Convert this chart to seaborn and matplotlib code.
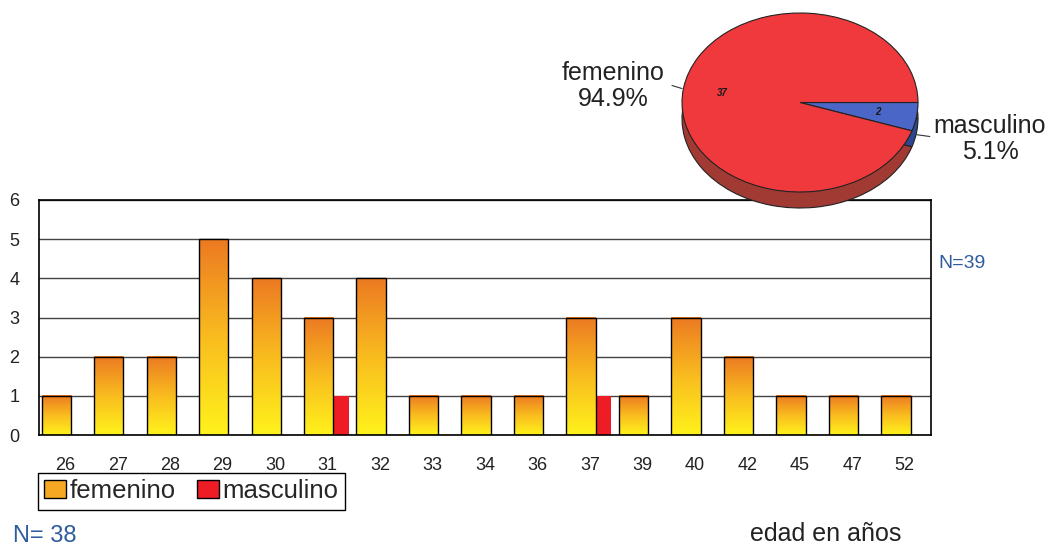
import numpy as np
import pandas as pd
import matplotlib
matplotlib.use('Agg')
import matplotlib.pyplot as plt
import seaborn as sns
from matplotlib.colors import LinearSegmentedColormap
from matplotlib.patches import Patch

sns.set_style("white")
plt.rcParams['font.family'] = ['Liberation Sans', 'DejaVu Sans']

# datos
edades = ['26', '27', '28', '29', '30', '31', '32', '33', '34', '36', '37', '39', '40', '42', '45', '47', '52']
femenino = [1, 2, 2, 5, 4, 3, 4, 1, 1, 1, 3, 1, 3, 2, 1, 1, 1]
masculino = [0, 0, 0, 0, 0, 1, 0, 0, 0, 0, 1, 0, 0, 0, 0, 0, 0]
pie_labels = ['masculino', 'femenino']
pie_counts = [2, 37]

df = pd.DataFrame({'edad': edades, 'femenino': femenino, 'masculino': masculino})

W, H = 1062, 549
fig = plt.figure(figsize=(W / 100, H / 100), dpi=100)

# ---- barras por edad ----
ax = fig.add_axes([39 / W, 114 / H, 892 / W, 235 / H])
sns.barplot(data=df, x='edad', y='femenino', order=edades, width=0.56, color='orange',
            saturation=1, errorbar=None, ax=ax, zorder=3)
fem_bars = list(ax.patches)
sns.barplot(data=df, x='edad', y='masculino', order=edades, width=0.3, color='#EE1C25',
            saturation=1, errorbar=None, ax=ax, zorder=2)
masc_bars = ax.patches[len(fem_bars):]

# degradado amarillo -> naranja en cada barra femenina
cmap = LinearSegmentedColormap.from_list('fem', ['#FFF21C', '#F9BC1F', '#EC7A22'])
grad = np.linspace(0, 1, 100).reshape(-1, 1)
for p in fem_bars:
    p.set_x(p.get_x() - 0.17)
    p.set_facecolor('none')
    p.set_edgecolor('black')
    p.set_linewidth(1)
    x0, w, h = p.get_x(), p.get_width(), p.get_height()
    ax.imshow(grad, cmap=cmap, extent=[x0, x0 + w, 0, h], origin='lower',
              aspect='auto', zorder=2.5, interpolation='bicubic')
for p in masc_bars:
    p.set_x(p.get_x() + 0.25)
    p.set_edgecolor('none')

ax.set_xlim(-0.5, len(edades) - 0.5)
ax.set_ylim(0, 6)
ax.set_yticks(range(7))
ax.yaxis.grid(True, color='#444444', linewidth=1)
ax.set_axisbelow(True)
for s in ax.spines.values():
    s.set_color('black')
    s.set_linewidth(1.2)
ax.tick_params(axis='both', length=0, labelsize=13, labelcolor='#222222')
ax.tick_params(axis='x', pad=16)
ax.tick_params(axis='y', pad=14)
ax.set_xlabel('')
ax.set_ylabel('')

# ---- pastel con efecto 3D ----
d = 16 / 89.5
ax_pie = fig.add_axes([682 / W, 341 / H, 236 / W, 195 / H])
ax_pie.patch.set_facecolor('none')
ax_pie.pie(pie_counts, colors=['#2E4590', '#A13A33'], startangle=0, counterclock=False,
           center=(0, -d), wedgeprops=dict(edgecolor='#222222', linewidth=0.8))
total = sum(pie_counts)
ax_pie.pie(pie_counts, colors=['#4A66C6', '#F0393D'], startangle=0, counterclock=False,
           wedgeprops=dict(edgecolor='#222222', linewidth=0.8),
           autopct=lambda p: f'{p * total / 100:.0f}', pctdistance=0.67,
           textprops=dict(fontsize=7, color='#1a1a1a', fontweight='bold', fontstyle='italic'))
ax_pie.set_aspect('auto')
ax_pie.set_xlim(-1, 1)
ax_pie.set_ylim(-1 - d, 1)
ax_pie.axis('off')

pct = [c / total * 100 for c in pie_counts]
ax_pie.text(-1.58, 0.18, f'{pie_labels[1]}\n{pct[1]:.1f}%', ha='center', va='center',
            fontsize=18, linespacing=1.1, color='#222222')
ax_pie.text(1.61, -0.41, f'{pie_labels[0]}\n{pct[0]:.1f}%', ha='center', va='center',
            fontsize=18, linespacing=1.1, color='#222222')
ax_pie.plot([-1.085, -1.0], [0.19, 0.156], color='#333333', lw=0.8, clip_on=False)
ax_pie.plot([0.99, 1.10], [-0.36, -0.38], color='#333333', lw=0.8, clip_on=False)

# ---- textos sueltos ----
fig.text(938 / W, 1 - 264 / H, 'N=39', color='#2F5B9F', fontsize=14, va='center', ha='left')
fig.text(13 / W, 1 - 536 / H, 'N= 38', color='#2F5B9F', fontsize=17, va='center', ha='left')
fig.text(826 / W, 1 - 534 / H, 'edad en años', ha='center', va='center', fontsize=18, color='#222222')

# ---- leyenda ----
handles = [Patch(facecolor='#F7A823', edgecolor='black'), Patch(facecolor='#EE1C25', edgecolor='black')]
leg = fig.legend(handles, ['femenino', 'masculino'], loc='upper left',
                 bbox_to_anchor=(38 / W, 1 - 473 / H), ncol=2, frameon=True, fancybox=False,
                 edgecolor='black', framealpha=1, fontsize=18.5, borderpad=0.25,
                 handlelength=0.85, handleheight=0.7, handletextpad=0.15,
                 columnspacing=0.8, borderaxespad=0)
leg.get_frame().set_linewidth(1)

fig.savefig('out.png', dpi=100, facecolor='white')
